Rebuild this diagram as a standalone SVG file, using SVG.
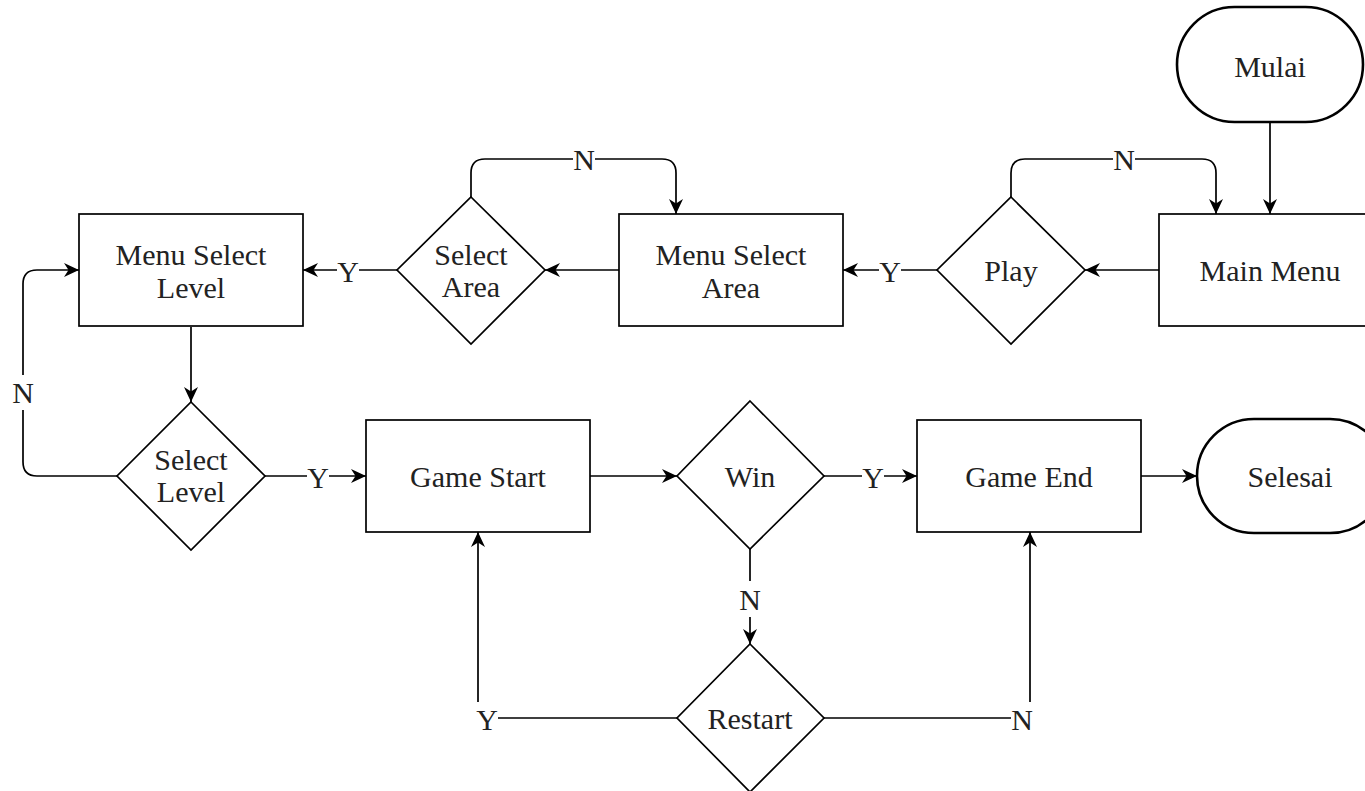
<svg xmlns="http://www.w3.org/2000/svg" width="1365" height="791" viewBox="0 0 1365 791">
<defs>
<marker id="arr" markerUnits="userSpaceOnUse" markerWidth="15" markerHeight="15" viewBox="0 0 15 15" refX="15" refY="7.5" orient="auto">
<path d="M0,0.5 L15,7.5 L0,14.5 L4.5,7.5 Z" fill="#000"/>
</marker>
<style>
.box{fill:#fff;stroke:#000;stroke-width:1.7}
.term{fill:#fff;stroke:#000;stroke-width:2.6}
.t{font-family:"Liberation Serif","Times New Roman",serif;font-size:30px;fill:#222;text-anchor:middle}
.e{fill:none;stroke:#000;stroke-width:1.7}
.lb{fill:#fff;stroke:none}
</style>
</defs>
<rect width="1365" height="791" fill="#fff"/>

<g id="connectors">
<path class="e" d="M1270,122 L1270,214" marker-end="url(#arr)"/>
<path class="e" d="M1159,270 L1085,270" marker-end="url(#arr)"/>
<path class="e" d="M1011,197 L1011,173 Q1011,159 1025,159 L1202,159 Q1216,159 1216,173 L1216,214" marker-end="url(#arr)"/>
<path class="e" d="M937,270 L843,270" marker-end="url(#arr)"/>
<path class="e" d="M619,270 L545,270" marker-end="url(#arr)"/>
<path class="e" d="M471,197 L471,173 Q471,159 485,159 L662,159 Q676,159 676,173 L676,214" marker-end="url(#arr)"/>
<path class="e" d="M397,270 L303,270" marker-end="url(#arr)"/>
<path class="e" d="M191,327 L191,402" marker-end="url(#arr)"/>
<path class="e" d="M117,476 L37,476 Q23,476 23,462 L23,284 Q23,270 37,270 L79,270" marker-end="url(#arr)"/>
<path class="e" d="M265,476 L366,476" marker-end="url(#arr)"/>
<path class="e" d="M590,476 L677,476" marker-end="url(#arr)"/>
<path class="e" d="M824,476 L917,476" marker-end="url(#arr)"/>
<path class="e" d="M1141,476 L1197,476" marker-end="url(#arr)"/>
<path class="e" d="M750,549 L750,644" marker-end="url(#arr)"/>
<path class="e" d="M677,718 L478,718 L478,532" marker-end="url(#arr)"/>
<path class="e" d="M823,718 L1030,718 L1030,532" marker-end="url(#arr)"/>

<rect class="lb" x="1113" y="146" width="22" height="26"/>
<text class="t" x="1124" y="170">N</text>
<rect class="lb" x="573" y="146" width="22" height="26"/>
<text class="t" x="584" y="170">N</text>
<rect class="lb" x="879" y="258" width="22" height="26"/>
<text class="t" x="890" y="282">Y</text>
<rect class="lb" x="337" y="258" width="22" height="26"/>
<text class="t" x="348" y="282">Y</text>
<rect class="lb" x="12" y="375" width="22" height="35"/>
<text class="t" x="23" y="403">N</text>
<rect class="lb" x="307" y="464" width="22" height="26"/>
<text class="t" x="318" y="488">Y</text>
<rect class="lb" x="862" y="464" width="22" height="26"/>
<text class="t" x="873" y="488">Y</text>
<rect class="lb" x="739" y="581" width="22" height="36"/>
<text class="t" x="750" y="610">N</text>
<rect class="lb" x="476" y="702" width="22" height="34"/>
<text class="t" x="487" y="730">Y</text>
<rect class="lb" x="1011" y="702" width="22" height="34"/>
<text class="t" x="1022" y="730">N</text>
</g>

<g id="mulai">
<rect class="term" x="1177" y="7" width="186" height="115" rx="57.5" ry="57.5"/>
<text class="t" x="1270" y="77">Mulai</text>
</g>
<g id="main-menu">
<rect class="box" x="1159" y="214" width="224" height="112"/>
<text class="t" x="1270" y="281">Main Menu</text>
</g>
<g id="play">
<polygon class="box" points="1011,197 1085,270 1011,344 937,270"/>
<text class="t" x="1011" y="281">Play</text>
</g>
<g id="menu-select-area">
<rect class="box" x="619" y="214" width="224" height="112"/>
<text class="t" x="731" y="265">Menu Select</text>
<text class="t" x="731" y="298">Area</text>
</g>
<g id="select-area">
<polygon class="box" points="471,197 545,270 471,344 397,270"/>
<text class="t" x="471" y="265">Select</text>
<text class="t" x="471" y="297">Area</text>
</g>
<g id="menu-select-level">
<rect class="box" x="79" y="214" width="224" height="112"/>
<text class="t" x="191" y="265">Menu Select</text>
<text class="t" x="191" y="298">Level</text>
</g>
<g id="select-level">
<polygon class="box" points="191,402 265,476 191,550 117,476"/>
<text class="t" x="191" y="470">Select</text>
<text class="t" x="191" y="502">Level</text>
</g>
<g id="game-start">
<rect class="box" x="366" y="420" width="224" height="112"/>
<text class="t" x="478" y="487">Game Start</text>
</g>
<g id="win">
<polygon class="box" points="750,401 824,476 750,549 677,476"/>
<text class="t" x="750" y="487">Win</text>
</g>
<g id="game-end">
<rect class="box" x="917" y="420" width="224" height="112"/>
<text class="t" x="1029" y="487">Game End</text>
</g>
<g id="selesai">
<rect class="term" x="1197" y="419" width="190" height="114" rx="57" ry="57"/>
<text class="t" x="1290" y="487">Selesai</text>
</g>
<g id="restart">
<polygon class="box" points="750,644 824,718 750,792 677,718"/>
<text class="t" x="750" y="729">Restart</text>
</g>
</svg>
